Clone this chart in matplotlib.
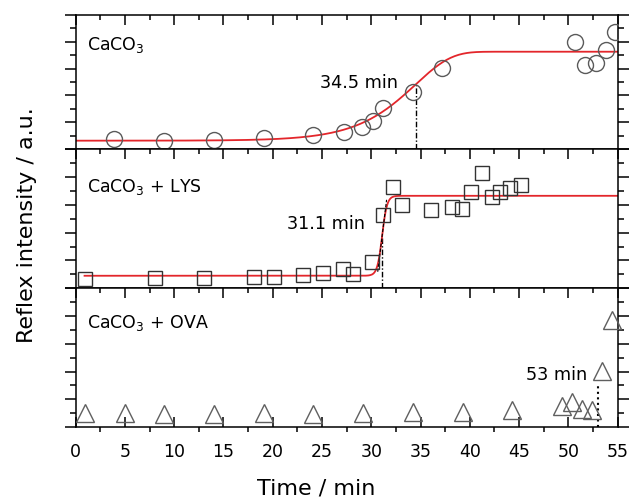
import numpy as np
import matplotlib
matplotlib.use('Agg')
import matplotlib.pyplot as plt
from matplotlib.ticker import MultipleLocator

plt.rcParams['font.family'] = ['DejaVu Sans']
plt.rcParams['mathtext.default'] = 'regular'

# 反射强度 vs 时间, 三组样品
t_caco3 = [3.9, 8.95, 14.0, 19.1, 24.1, 27.2, 29.1, 30.2, 31.2, 34.2, 37.2, 50.7, 51.7, 52.8, 53.8, 54.7]
i_caco3 = [0.36, 0.31, 0.34, 0.40, 0.52, 0.62, 0.83, 1.04, 1.52, 2.14, 3.01, 3.98, 3.13, 3.22, 3.69, 4.38]

t_lys = [0.9, 8.0, 13.0, 18.1, 20.1, 23.1, 25.1, 27.1, 28.1, 30.1, 31.2,
         32.2, 33.1, 36.1, 38.2, 39.2, 40.1, 41.2, 42.2, 43.1, 44.1, 45.2]
i_lys = [0.33, 0.36, 0.36, 0.39, 0.42, 0.48, 0.54, 0.69, 0.50, 0.93, 2.63,
         3.65, 2.99, 2.81, 2.93, 2.85, 3.47, 4.13, 3.29, 3.47, 3.59, 3.71]

t_ova = [0.9, 5.0, 9.0, 14.0, 19.1, 24.1, 29.2, 34.2, 39.3, 44.3, 49.4, 50.4, 51.4, 52.4, 53.4, 54.4]
i_ova = [0.49, 0.49, 0.46, 0.46, 0.49, 0.46, 0.49, 0.55, 0.53, 0.61, 0.77, 0.91, 0.65, 0.61, 2.02, 3.86]

# 拟合参数 (基线, 平台, 特征时间, 宽度)
fit_caco3 = (0.31, 3.63, 34.5, 3.6)
fit_lys = (0.45, 3.32, 31.1, 0.25)
t_ova_onset = 53.0
ova_line_top = 1.58

labels = ['CaCO$_3$', 'CaCO$_3$ + LYS', 'CaCO$_3$ + OVA']
t_labels = ['34.5 min', '31.1 min', '53 min']


def cloglog(t, a, b, tc, w):
    return a + (b - a) * (1 - np.exp(-np.exp((t - tc) / w)))


def boltzmann(t, a, b, tc, w):
    return a + (b - a) / (1 + np.exp(-(t - tc) / w))


red = '#e3262b'
fig = plt.figure(figsize=(6.29, 5.0), dpi=100)
gs = fig.add_gridspec(3, 1, height_ratios=[134, 139.3, 138.7], hspace=0,
                      left=0.1203, right=0.982, top=0.97, bottom=0.146)
axes = [fig.add_subplot(gs[i]) for i in range(3)]

for k, ax in enumerate(axes):
    ax.set_xlim(0, 55)
    ax.set_ylim(0, 5)
    ax.xaxis.set_major_locator(MultipleLocator(5))
    ax.xaxis.set_minor_locator(MultipleLocator(2.5))
    ax.yaxis.set_major_locator(MultipleLocator(1))
    ax.yaxis.set_minor_locator(MultipleLocator(0.5))
    for s in ax.spines.values():
        s.set_linewidth(1.1)
    last = (k == 2)
    ax.tick_params(axis='x', which='both', top=True, bottom=last, labelbottom=last,
                   direction='in', width=1.1)
    ax.tick_params(axis='x', which='major', length=7)
    ax.tick_params(axis='x', which='minor', length=3.6)
    ax.tick_params(axis='y', which='both', left=True, right=True, labelleft=False, width=1.1)
    ax.tick_params(axis='y', which='major', length=8)
    ax.tick_params(axis='y', which='minor', length=4.5)
    # 左边刻度朝外, 右边朝内
    for tk in ax.yaxis.get_major_ticks() + ax.yaxis.get_minor_ticks():
        tk.tick1line.set_marker(matplotlib.lines.TICKLEFT)
    if last:
        for tk in ax.xaxis.get_major_ticks() + ax.xaxis.get_minor_ticks():
            tk.tick1line.set_marker(matplotlib.lines.TICKDOWN)
        ax.tick_params(axis='x', labelsize=12.5, pad=11.5)

ax1, ax2, ax3 = axes

# CaCO3
tt = np.linspace(0, 55, 400)
ax1.plot(tt, cloglog(tt, *fit_caco3), color=red, lw=1.3, zorder=2)
ax1.plot(t_caco3, i_caco3, 'o', ms=11.5, mfc='none', mec='#5a5a5a', mew=1.0, zorder=3)
tc = fit_caco3[2]
ax1.plot([tc, tc], [0, cloglog(tc, *fit_caco3)], color='k', lw=1,
         ls=(0, (4, 1.5, 1, 1.5)), zorder=1)
ax1.text(32.7, 2.26, t_labels[0], ha='right', va='baseline', fontsize=12.7)
ax1.text(1.2, 3.69, labels[0], ha='left', va='baseline', fontsize=12.5)

# CaCO3 + LYS
tt2 = np.linspace(t_lys[0], 55, 600)
ax2.plot(tt2, boltzmann(tt2, *fit_lys), color=red, lw=1.3, zorder=2)
ax2.plot(t_lys, i_lys, 's', ms=10.5, mfc='none', mec='#333333', mew=1.0, zorder=3)
tc = fit_lys[2]
ax2.plot([tc, tc], [0, boltzmann(tc, *fit_lys)], color='k', lw=1,
         ls=(0, (4, 1.5, 1, 1.5)), zorder=1)
# 切线
slope = (fit_lys[1] - fit_lys[0]) / (4 * fit_lys[3])
tl = np.array([tc - 0.45, tc + 0.45])
ax2.plot(tl, boltzmann(tc, *fit_lys) + slope * (tl - tc), color='k', lw=0.8,
         ls=(0, (3, 1.5)), zorder=2)
ax2.text(29.4, 2.13, t_labels[1], ha='right', va='baseline', fontsize=12.7)
ax2.text(1.2, 3.47, labels[1], ha='left', va='baseline', fontsize=12.5)

# CaCO3 + OVA
ax3.plot(t_ova, i_ova, '^', ms=13, mfc='none', mec='#5f5f5f', mew=1.0, zorder=3,
         clip_on=False)
ax3.plot([t_ova_onset, t_ova_onset], [0, ova_line_top], color='k', lw=1.5, ls=':',
         zorder=1)
ax3.text(51.9, 1.69, t_labels[2], ha='right', va='baseline', fontsize=12.7)
ax3.text(1.2, 3.56, labels[2], ha='left', va='baseline', fontsize=12.5)

fig.text(316 / 629, 1 - 488 / 500, 'Time / min', ha='center', va='center', fontsize=16)
fig.text(27 / 629, 1 - 225 / 500, 'Reflex intensity / a.u.', ha='center', va='center',
         rotation=90, fontsize=16)

fig.savefig('out.png', dpi=100)
